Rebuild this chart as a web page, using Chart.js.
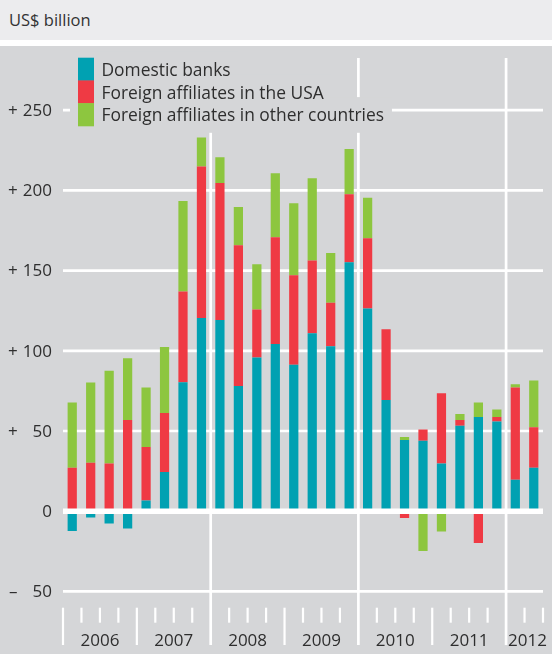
<!DOCTYPE html>
<html><head><meta charset="utf-8">
<script src="https://cdn.jsdelivr.net/npm/chart.js@4/dist/chart.umd.min.js"></script>
<style>
html,body{margin:0;padding:0;background:#fff;width:552px;height:654px;overflow:hidden;}
#hdr{position:absolute;left:0;top:0;width:552px;height:40px;background:#ececee;font-family:"Open Sans",sans-serif;font-size:16.5px;color:#333;}
#hdr span{position:absolute;left:9px;top:8px;}
#wrap{position:absolute;left:0;top:46px;width:552px;height:608px;background:#d5d6d8;}
canvas{display:block;}
</style></head>
<body>
<div id="hdr"><span>US$ billion</span></div>
<div id="wrap"><canvas id="c" width="552" height="608"></canvas></div>
<script>
const quarters = ['2006 Q1','2006 Q2','2006 Q3','2006 Q4','2007 Q1','2007 Q2','2007 Q3','2007 Q4',
  '2008 Q1','2008 Q2','2008 Q3','2008 Q4','2009 Q1','2009 Q2','2009 Q3','2009 Q4',
  '2010 Q1','2010 Q2','2010 Q3','2010 Q4','2011 Q1','2011 Q2','2011 Q3','2011 Q4',
  '2012 Q1','2012 Q2'];
const domestic = [-12.3,-3.9,-7.7,-10.8,6.7,24.4,80.4,120.4,119.2,78.1,95.8,104.2,91.3,111.0,102.9,155.2,126.3,69.4,44.4,44.0,29.8,53.3,58.8,56.0,19.6,27.1];
const foreignUSA = [27.1,30.2,29.8,56.9,33.3,36.9,56.5,94.4,85.4,87.7,30.0,66.6,55.8,45.3,27.1,42.3,43.9,44.1,-4.2,7.0,43.7,3.6,-19.8,2.8,57.5,25.2];
const foreignOther = [40.6,50.0,57.7,38.5,37.1,41.0,56.4,18.1,16.0,23.8,28.2,39.8,44.8,51.2,31.0,28.3,25.2,0,1.9,-24.8,-12.7,3.7,8.9,4.6,2.1,29.2];
const yTicks = [-50,0,50,100,150,200,250];
const extendedYears = ['2008','2010','2012'];
const seriesNames = ['Domestic banks','Foreign affiliates in the USA','Foreign affiliates in other countries'];
const seriesColors = ['#00a1b2','#ef3a44','#8dc63f'];

const BG = '#d5d6d8';
const TXT = '#2e2e2e';
const FONT = '"Open Sans", sans-serif';

function boundaries(x){
  const n = quarters.length;
  const b = [];
  const c = i => x.getPixelForValue(i);
  const half = (c(1)-c(0))/2;
  for(let k=0;k<=n;k++){
    if(k===0) b.push(c(0)-half);
    else if(k===n) b.push(c(n-1)+half);
    else b.push((c(k-1)+c(k))/2);
  }
  return b;
}

const decor = {
  id:'decor',
  beforeDatasetsDraw(chart){
    const ctx = chart.ctx, x = chart.scales.x, y = chart.scales.y;
    const b = boundaries(x);
    ctx.save();
    ctx.strokeStyle = '#fff';
    ctx.lineWidth = 2.7;
    yTicks.forEach(v=>{
      if(v===0) return;
      const py = y.getPixelForValue(v);
      ctx.beginPath(); ctx.moveTo(b[0], py); ctx.lineTo(b[b.length-1], py); ctx.stroke();
    });
    const top = 12, tickTop = 561.7, longEnd = 599, shortEnd = 576.7;
    for(let k=0;k<=quarters.length;k++){
      const px = b[k];
      const yr = k<quarters.length ? quarters[k].slice(0,4) : null;
      const isYearStart = k<quarters.length && (k===0 || quarters[k-1].slice(0,4)!==yr);
      ctx.beginPath();
      if(isYearStart && extendedYears.includes(yr)){
        ctx.lineWidth = 2.7;
        ctx.moveTo(px, top); ctx.lineTo(px, longEnd);
      } else if(isYearStart){
        ctx.lineWidth = 2.2;
        ctx.moveTo(px, tickTop); ctx.lineTo(px, longEnd);
      } else {
        ctx.lineWidth = 2.2;
        ctx.moveTo(px, tickTop); ctx.lineTo(px, shortEnd);
      }
      ctx.stroke();
    }
    ctx.restore();
  },
  afterDatasetsDraw(chart){
    const ctx = chart.ctx, x = chart.scales.x, y = chart.scales.y;
    const b = boundaries(x);
    ctx.save();
    ctx.strokeStyle = '#fff';
    ctx.lineWidth = 5.5;
    const z = y.getPixelForValue(0);
    ctx.beginPath(); ctx.moveTo(b[0], z); ctx.lineTo(b[b.length-1], z); ctx.stroke();
    ctx.fillStyle = TXT;
    ctx.font = '17px ' + FONT;
    ctx.textBaseline = 'middle';
    yTicks.forEach(v=>{
      const py = y.getPixelForValue(v) + 1;
      if(v>0){ ctx.textAlign='left'; ctx.fillText('+', 8, py); }
      if(v<0){ ctx.textAlign='left'; ctx.fillText('\u2013', 9, py); }
      ctx.textAlign='right';
      ctx.fillText(String(Math.abs(v)), 52, py);
    });
    ctx.textAlign = 'center';
    ctx.textBaseline = 'alphabetic';
    let start = 0;
    for(let k=1;k<=quarters.length;k++){
      if(k===quarters.length || quarters[k].slice(0,4)!==quarters[start].slice(0,4)){
        const cx = (b[start]+b[k])/2 + (k-start<4 ? 3 : 0);
        ctx.fillText(quarters[start].slice(0,4), cx, 599.5);
        start = k;
      }
    }
    ctx.font = '17.4px ' + FONT;
    const rowH = 22.7, row0 = 11.7, sqL = 78, sqW = 16, txtX = 101.5;
    seriesNames.forEach((name,i)=>{
      const w = ctx.measureText(name).width;
      const t = row0 + i*rowH;
      ctx.fillStyle = BG;
      ctx.fillRect(70, t-6, txtX + w + 8 - 70, rowH + 6 + (i===seriesNames.length-1 ? 7 : 0));
    });
    seriesNames.forEach((name,i)=>{
      const t = row0 + i*rowH;
      ctx.fillStyle = seriesColors[i];
      ctx.fillRect(sqL, t, sqW, rowH + 0.5);
      ctx.fillStyle = TXT;
      ctx.textAlign = 'left';
      ctx.textBaseline = 'alphabetic';
      ctx.fillText(name, txtX, t + 18.2);
    });
    ctx.restore();
  }
};

new Chart(document.getElementById('c'), {
  type:'bar',
  data:{
    labels: quarters,
    datasets:[
      {label:seriesNames[0], data:domestic, backgroundColor:seriesColors[0]},
      {label:seriesNames[1], data:foreignUSA, backgroundColor:seriesColors[1]},
      {label:seriesNames[2], data:foreignOther, backgroundColor:seriesColors[2]}
    ]
  },
  options:{
    responsive:false,
    animation:false,
    layout:{padding:{left:63,right:9,top:16,bottom:46.5}},
    datasets:{bar:{categoryPercentage:1, barPercentage:0.5, borderWidth:0}},
    plugins:{legend:{display:false}, tooltip:{enabled:false}},
    scales:{
      x:{type:'category', stacked:true, display:false},
      y:{type:'linear', stacked:true, display:false, min:-60, max:280}
    }
  },
  plugins:[decor]
});
</script>
</body></html>
